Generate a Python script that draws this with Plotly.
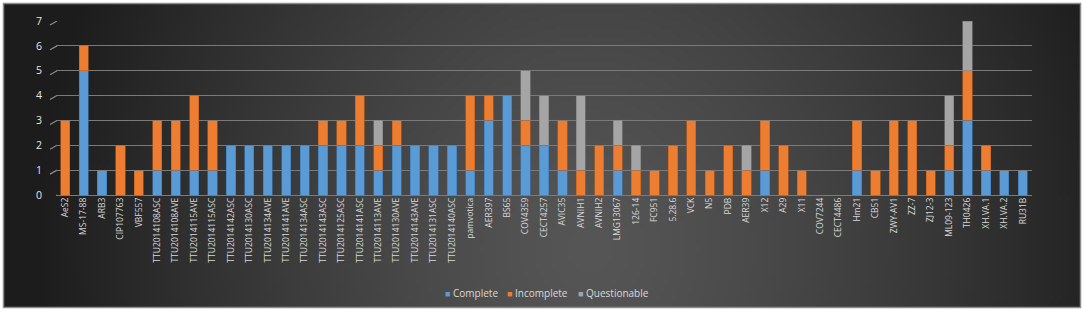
import base64, struct, zlib
import numpy as np
import plotly.graph_objects as go

categories = ["AeS2", "MS-17-88", "ARB3", "CIP107763", "VBF557", "TTU2014108ASC", "TTU2014108AVE",
              "TTU2014115AVE", "TTU2014115ASC", "TTU2014142ASC", "TTU2014130ASC", "TTU2014134AVE",
              "TTU2014141AVE", "TTU2014134ASC", "TTU2014143ASC", "TTU2014125ASC", "TTU2014141ASC",
              "TTU2014113AVE", "TTU2014130AVE", "TTU2014143AVE", "TTU2014131ASC", "TTU2014140ASC",
              "pamvotica", "AER397", "BS65", "COV4359", "CECT4257", "AVIC35", "AVNIH1", "AVNIH2",
              "LMG13067", "126-14", "FC951", "5.28.6", "VCK", "N5", "PDB", "AER39", "X12", "A29",
              "X11", "COV7244", "CECT4486", "Hm21", "CB51", "ZWY-AV1", "ZZ-7", "ZJ12-3", "ML09-123",
              "TH0426", "XH.VA.1", "XH.VA.2", "RU31B"]
complete = [0, 5, 1, 0, 0, 1, 1, 1, 1, 2, 2, 2, 2, 2, 2, 2, 2, 1, 2, 2, 2, 2,
            1, 3, 4, 2, 2, 1, 0, 0, 1, 0, 0, 0, 0, 0, 0, 0, 1, 0,
            0, 0, 0, 1, 0, 0, 0, 0, 1, 3, 1, 1, 1]
incomplete = [3, 1, 0, 2, 1, 2, 2, 3, 2, 0, 0, 0, 0, 0, 1, 1, 2, 1, 1, 0, 0, 0,
              3, 1, 0, 1, 0, 2, 1, 2, 1, 1, 1, 2, 3, 1, 2, 1, 2, 2,
              1, 0, 0, 2, 1, 3, 3, 1, 1, 2, 1, 0, 0]
questionable = [0, 0, 0, 0, 0, 0, 0, 0, 0, 0, 0, 0, 0, 0, 0, 0, 0, 1, 0, 0, 0, 0,
                0, 0, 0, 2, 2, 0, 3, 0, 1, 1, 0, 0, 0, 0, 0, 1, 0, 0,
                0, 0, 0, 0, 0, 0, 0, 0, 2, 2, 0, 0, 0]
series_names = ["Complete", "Incomplete", "Questionable"]
y_ticks = [0, 1, 2, 3, 4, 5, 6, 7]

# ---- background gradient image (style only) ----
W, H = 270, 76
xs = np.linspace(4, 1080, W)
ys = np.linspace(4, 307, H)
X, Y = np.meshgrid(xs, ys)
d = np.sqrt(((X - 590) / 560.0) ** 2 + ((Y - 250) / 650.0) ** 2)
d = np.clip(d, 0, 1) ** 1.3
c = (86 - d * (86 - 28)).astype(np.uint8)
raw = b"".join(b"\x00" + bytes(np.stack([row, row, row], axis=1).flatten()) for row in c)
def chunk(t, data):
    return struct.pack(">I", len(data)) + t + data + struct.pack(">I", zlib.crc32(t + data) & 0xffffffff)
png = (b"\x89PNG\r\n\x1a\n" + chunk(b"IHDR", struct.pack(">IIBBBBB", W, H, 8, 2, 0, 0, 0))
       + chunk(b"IDAT", zlib.compress(raw)) + chunk(b"IEND", b""))
img_src = "data:image/png;base64," + base64.b64encode(png).decode()

# plot area in pixels
L, R, T, B = 56, 1032, 21, 195
pw, ph = R - L, B - T
def px(xp):
    return (xp - L) / pw
def py(yp):
    return (B - yp) / ph

fig = go.Figure()
colors = {"Complete": "#5B9BD5", "Incomplete": "#ED7D31", "Questionable": "#A5A5A5"}
edges = {"Complete": "#3f78b0", "Incomplete": "#c0601c", "Questionable": "#7f7f7f"}
for name, vals in zip(series_names, [complete, incomplete, questionable]):
    fig.add_trace(go.Bar(x=categories, y=vals, name=name, showlegend=False,
                         marker=dict(color=colors[name], line=dict(color=edges[name], width=0.6))))

shapes = []
shapes.append(dict(type="rect", xref="paper", yref="paper", x0=px(3.5), x1=px(1080.5), y0=py(307.5), y1=py(3.5),
                   line=dict(color="#8c8c8c", width=1.5), fillcolor="rgba(0,0,0,0)", layer="below"))
for t in y_ticks:
    shapes.append(dict(type="line", xref="paper", yref="y", x0=px(50), x1=px(57), y0=t - 0.16, y1=t,
                       line=dict(color="#8a8a8a", width=1.2), layer="below"))

# custom compact legend
annotations = []
leg_x = [443, 505, 576]
for name, lx in zip(series_names, leg_x):
    annotations.append(dict(xref="paper", yref="paper", x=px(lx), y=py(293), xanchor="left", yanchor="middle",
                            showarrow=False,
                            text=f'<span style="color:{colors[name]};font-size:9px">■</span> {name}',
                            font=dict(size=10, color="#d9d9d9", family="Open Sans")))

fig.update_layout(
    width=1084, height=314,
    margin=dict(l=L, r=1084 - R, t=T, b=314 - B, autoexpand=False),
    paper_bgcolor="#ffffff", plot_bgcolor="rgba(0,0,0,0)",
    barmode="stack", bargap=0.5,
    font=dict(family="Open Sans", color="#d9d9d9"),
    images=[dict(source=img_src, xref="paper", yref="paper", x=px(4), y=py(4),
                 sizex=(1080 - 4) / pw, sizey=(307 - 4) / ph, sizing="stretch",
                 xanchor="left", yanchor="top", layer="below")],
    shapes=shapes,
    annotations=annotations,
    showlegend=False,
    xaxis=dict(tickangle=-90, tickfont=dict(size=8.5, color="#d9d9d9"), showgrid=False, automargin=False,
               showline=False, ticks="", ticklen=0, fixedrange=True),
    yaxis=dict(range=[0, 7], tickvals=y_ticks, tickfont=dict(size=10.5, color="#e6e6e6"), automargin=False,
               showgrid=True, gridcolor="#7a7a7a", gridwidth=1.2, zeroline=True,
               zerolinecolor="#7a7a7a", zerolinewidth=1.2, showline=False, ticks="",
               ticklabelstandoff=13),
)
fig.write_html("out.html", config={"displayModeBar": False},
               post_script="document.body.style.margin='0';document.body.style.overflow='hidden';")
